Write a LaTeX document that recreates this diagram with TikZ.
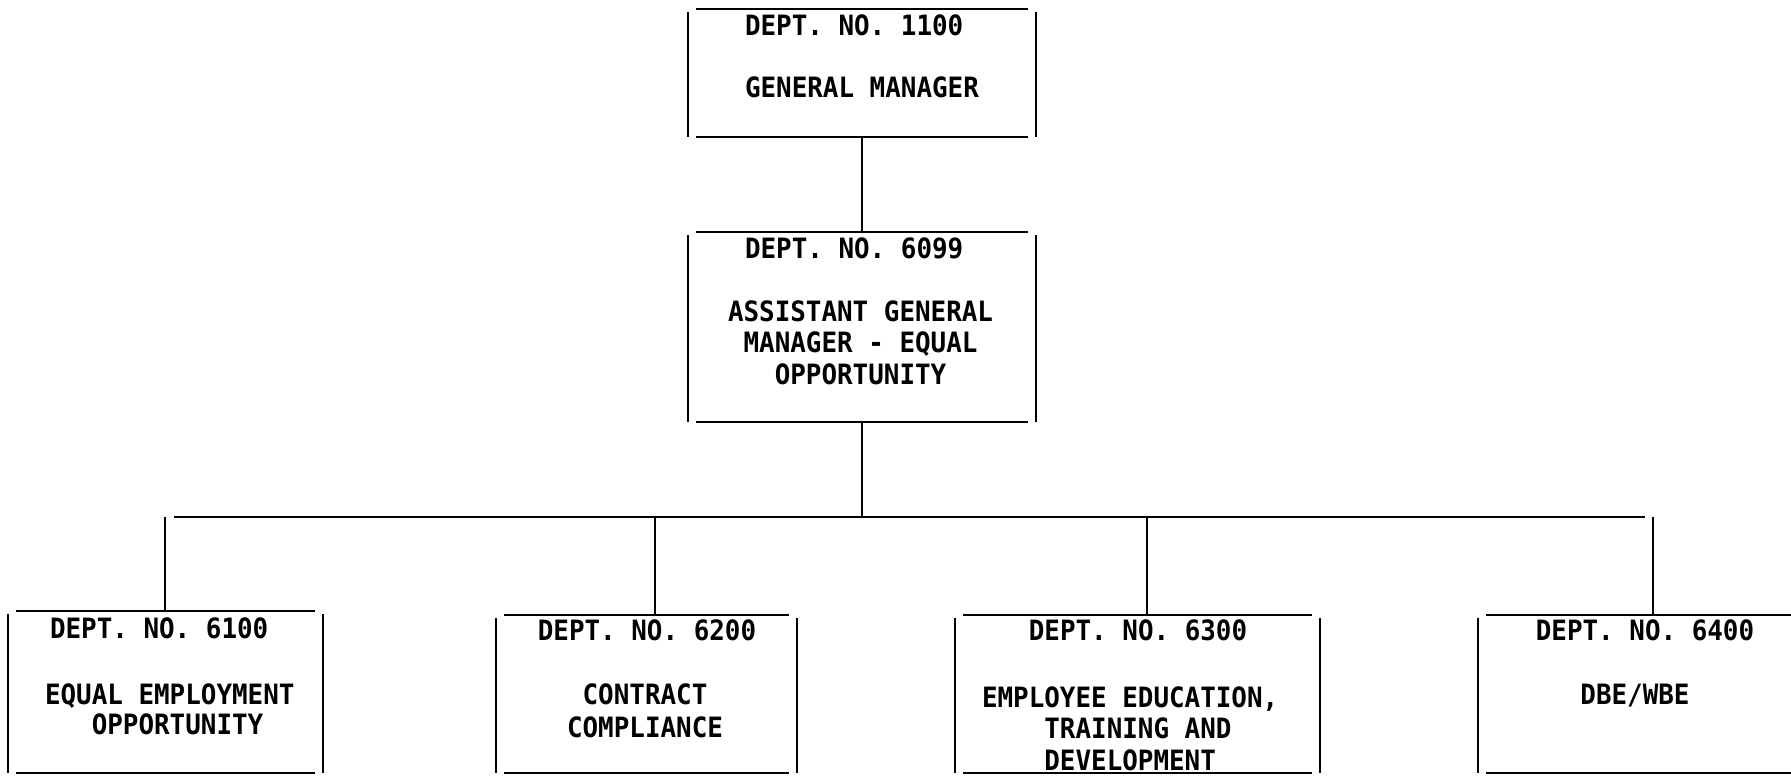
\documentclass[tikz,border=0pt]{standalone}
\usepackage{fontspec}
\newfontfamily\orgfont[FakeStretch=0.925]{DejaVu Sans Mono}
\usetikzlibrary{calc}

\tikzset{
  rule/.style={line width=2.9pt, line cap=butt, black},
  unit/.style={inner sep=0pt, outer sep=0pt, minimum width=#1},
  lbl/.style={inner sep=0pt, outer sep=0pt, text=black,
              font=\orgfont\bfseries\fontsize{28}{31.5}\selectfont},
}

% a box drawn as four separate strokes, leaving small gaps at the corners
\newcommand\sidedbox[1]{%
  \draw[rule] ($(#1.north west)+(8,0)$) -- ($(#1.north east)+(-8,0)$);
  \draw[rule] ($(#1.south west)+(8,0)$) -- ($(#1.south east)+(-8,0)$);
  \draw[rule] ($(#1.north west)+(0,3)$) -- (#1.south west);
  \draw[rule] ($(#1.north east)+(0,3)$) -- (#1.south east);
}

\begin{document}
\begin{tikzpicture}[x=1pt, y=-1pt]
\useasboundingbox (0,0) rectangle (1791,777);
\fill[white] (0,0) rectangle (1791,777);

% boxes
\node[unit=348, minimum height=128] (gm)   at (862,73)    {};
\node[unit=348, minimum height=190] (agm)  at (862,327)   {};
\node[unit=315, minimum height=162] (eeo)  at (165.5,692) {};
\node[unit=301, minimum height=158] (cc)   at (646.5,694) {};
\node[unit=365, minimum height=158] (eetd) at (1137.5,694){};
\node[unit=352, minimum height=158] (dbe)  at (1654,694)  {};

\sidedbox{gm}
\sidedbox{agm}
\sidedbox{eeo}
\sidedbox{cc}
\sidedbox{eetd}
\sidedbox{dbe}

% connectors
\coordinate (bus) at (0,517);
\coordinate (d1) at (165,517);
\coordinate (d2) at (655,517);
\coordinate (d3) at (1147,517);
\coordinate (d4) at (1653,517);

\draw[rule] (gm.south) -- (agm.north);
\draw[rule] (agm.south) -- (agm.south |- bus);
\draw[rule] ($(d1)+(9,0)$) -- ($(d4)+(-8,0)$);
\draw[rule] (d1) -- (d1 |- eeo.north);
\draw[rule] (d2) -- (d2 |- cc.north);
\draw[rule] (d3) -- (d3 |- eetd.north);
\draw[rule] (d4) -- (d4 |- dbe.north);

% labels (multi-line labels are anchored at the baseline of their last line)
\node[lbl, anchor=base west] (gm-no) at (745,35) {DEPT. NO. 1100};
\node[lbl, anchor=base west] (gm-t)  at (745,97) {GENERAL MANAGER};

\node[lbl, anchor=base west] (agm-no) at (745,258) {DEPT. NO. 6099};
\node[lbl, anchor=base west, align=left] (agm-t) at (728,384)
  {ASSISTANT GENERAL\\\phantom{X}MANAGER - EQUAL\\\phantom{XXX}OPPORTUNITY};

\node[lbl, anchor=base west] (eeo-no) at (50,638) {DEPT. NO. 6100};
\node[lbl, anchor=base west, align=left,
      font=\orgfont\bfseries\fontsize{28}{30}\selectfont] (eeo-t) at (45,734)
  {EQUAL EMPLOYMENT\\\phantom{XXX}OPPORTUNITY};

\node[lbl, anchor=base] (cc-no) at (647,640) {DEPT. NO. 6200};
\node[lbl, anchor=base, align=center,
      font=\orgfont\bfseries\fontsize{28}{33}\selectfont] (cc-t) at (645,737)
  {CONTRACT\\COMPLIANCE};

\node[lbl, anchor=base] (eetd-no) at (1138,640) {DEPT. NO. 6300};
\node[lbl, anchor=base west, align=left] (eetd-t) at (982,770)
  {EMPLOYEE EDUCATION,\\\phantom{XXXX}TRAINING AND\\\phantom{XXXX}DEVELOPMENT};

\node[lbl, anchor=base] (dbe-no) at (1645,640) {DEPT. NO. 6400};
\node[lbl, anchor=base] (dbe-t)  at (1635,704) {DBE/WBE};
\end{tikzpicture}
\end{document}
